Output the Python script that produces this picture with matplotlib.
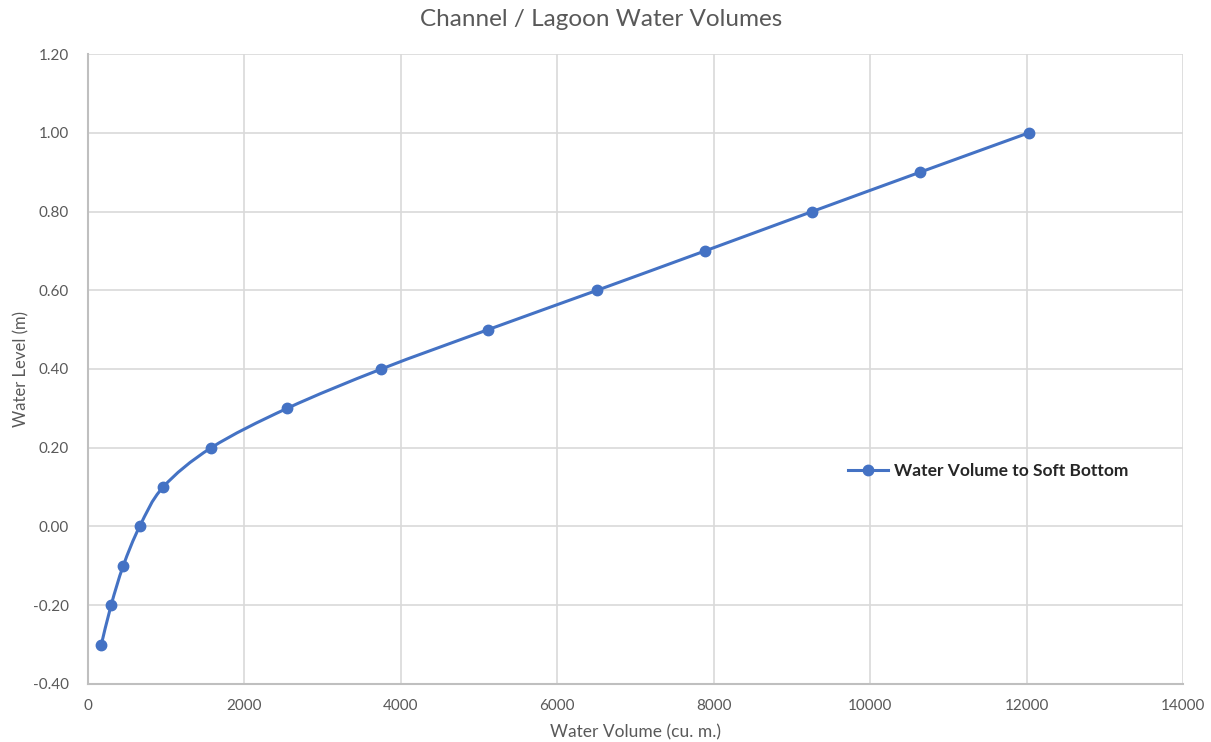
import matplotlib.pyplot as plt
from matplotlib.path import Path
from matplotlib.patches import PathPatch
from matplotlib.lines import Line2D

plt.rcParams['font.family'] = ['Lato', 'DejaVu Sans']

volume = [170, 295, 450, 660, 960, 1575, 2545, 3750, 5115, 6510, 7890, 9260, 10640, 12030]
level = [-0.30, -0.20, -0.10, 0.00, 0.10, 0.20, 0.30, 0.40, 0.50, 0.60, 0.70, 0.80, 0.90, 1.00]
series_name = 'Water Volume to Soft Bottom'

blue = '#4472C4'
grey = '#595959'

fig = plt.figure(figsize=(12.11, 7.42), dpi=100)
ax = fig.add_axes([0.0727, 0.0782, 0.9042, 0.849])

# smoothed line like Excel (Catmull-Rom as cubic Bezier segments)
pts = list(zip(volume, level))
verts = [pts[0]]
codes = [Path.MOVETO]
n = len(pts)
for i in range(n - 1):
    p0 = pts[i - 1] if i > 0 else pts[i]
    p1 = pts[i]
    p2 = pts[i + 1]
    p3 = pts[i + 2] if i + 2 < n else pts[i + 1]
    c1 = (p1[0] + (p2[0] - p0[0]) / 6, p1[1] + (p2[1] - p0[1]) / 6)
    c2 = (p2[0] - (p3[0] - p1[0]) / 6, p2[1] - (p3[1] - p1[1]) / 6)
    verts += [c1, c2, p2]
    codes += [Path.CURVE4] * 3
ax.add_patch(PathPatch(Path(verts, codes), facecolor='none', edgecolor=blue, lw=2.2, zorder=3))
ax.plot(volume, level, 'o', color=blue, ms=7.5, zorder=4)

ax.set_xlim(0, 14000)
ax.set_ylim(-0.40, 1.20)
ax.set_xticks(range(0, 14001, 2000))
ax.set_yticks([-0.4 + 0.2 * i for i in range(9)])
ax.set_yticklabels([f'{-0.4 + 0.2 * i:.2f}'.replace('-0.00', '0.00') for i in range(9)])
ax.grid(True, color='#D9D9D9', lw=1.2)
ax.set_axisbelow(True)
for s in ['top', 'right']:
    ax.spines[s].set_visible(False)
for s in ['left', 'bottom']:
    ax.spines[s].set_color('#BFBFBF')
    ax.spines[s].set_linewidth(1.5)
ax.tick_params(length=0, labelsize=11, colors=grey)
ax.tick_params(axis='y', pad=14)
ax.tick_params(axis='x', pad=11)

ax.set_xlabel('Water Volume (cu. m.)', fontsize=12.5, color=grey, labelpad=8)
ax.set_ylabel('Water Level (m)', fontsize=12, color=grey, labelpad=2)
fig.text(601 / 1211, 1 - 20 / 742, 'Channel / Lagoon Water Volumes', fontsize=17.5,
         color=grey, ha='center', va='center')

handle = Line2D([], [], color=blue, lw=2.2, marker='o', ms=7.5)
leg = ax.legend([handle], [series_name], loc='center left', bbox_to_anchor=(0.68, 0.338),
                frameon=False, handlelength=2.3, handletextpad=0.35, fontsize=12.5)
for t in leg.get_texts():
    t.set_color('#262626')
    t.set_fontweight('bold')

fig.savefig('out.png', dpi=100)
